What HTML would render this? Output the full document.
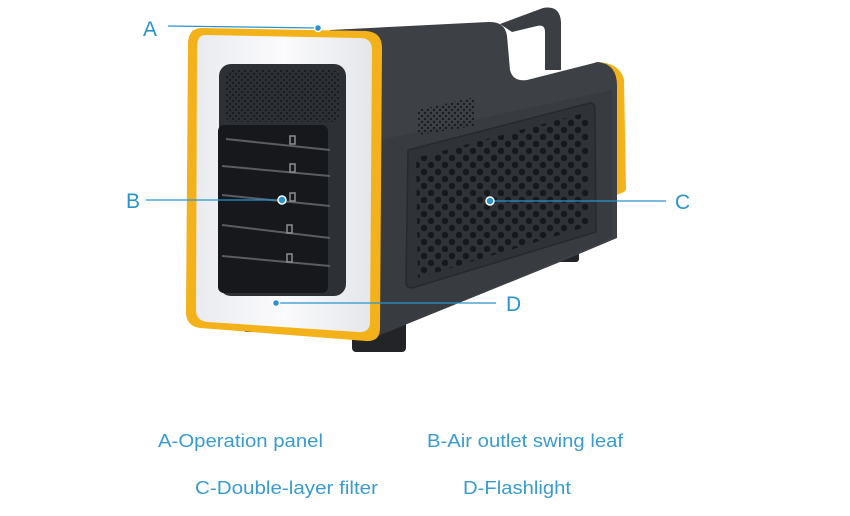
<!DOCTYPE html>
<html><head><meta charset="utf-8"><style>
html,body{margin:0;padding:0;background:#fff;width:850px;height:516px;overflow:hidden}
</style></head><body>
<svg width="850" height="516" viewBox="0 0 850 516" xmlns="http://www.w3.org/2000/svg">
<defs>
<pattern id="holes" x="0" y="0" width="14" height="14" patternUnits="userSpaceOnUse">
<circle cx="4" cy="4" r="3.2" fill="#16181b"/>
<circle cx="11" cy="11" r="3.2" fill="#16181b"/>
</pattern>
<pattern id="small" x="0" y="0" width="6" height="6" patternUnits="userSpaceOnUse">
<circle cx="2" cy="2" r="1.2" fill="#1a1c1f"/>
<circle cx="5" cy="5" r="1.2" fill="#1a1c1f"/>
</pattern>
<linearGradient id="wh" x1="0" y1="0" x2="1" y2="0">
<stop offset="0" stop-color="#e9ebef"/><stop offset="0.5" stop-color="#fbfbfd"/><stop offset="1" stop-color="#e4e6ea"/>
</linearGradient>
</defs>
<!-- feet -->
<rect x="352" y="318" width="54" height="34" rx="4" fill="#222428"/>
<rect x="543" y="238" width="36" height="24" rx="3" fill="#222428"/>
<rect x="245" y="318" width="22" height="14" fill="#222428"/>
<!-- yellow right strip -->
<path d="M595 62 Q620 62 624 80 L626 190 Q620 196 605 196 Z" fill="#f3b21a"/>
<!-- handle -->
<path d="M500 24 L543 8 Q560 5 561 22 L561 70 L545 70 L545 32 Q545 24 537 26 L512 32 Z" fill="#3b3e43"/>
<!-- body -->
<path d="M330 30 L488 22 Q505 21 507 36 L510 70 Q513 82 527 80 L598 62 Q617 64 617 86 L617 238 L560 262 L380 335 L330 335 Z" fill="#3d4045"/>
<path d="M380 140 L612 90 L612 238 L380 335 Z" fill="#383b40"/>
<!-- speaker dots -->
<path d="M418 110 L475 97 L475 126 L418 135 Z" fill="url(#small)"/>
<!-- filter panel -->
<path d="M408 150 L590 103 Q595 103 595 110 L596 232 L412 288 Q406 288 406 282 Z" fill="#2f3236" stroke="#27292d" stroke-width="1.5"/>
<path d="M416 158 L588 112 L589 226 L418 278 Z" fill="url(#holes)"/>
<!-- front yellow frame -->
<path d="M202 28 L366 31 Q382 32 382 48 L380 328 Q380 342 366 341 L200 328 Q186 326 186 312 L188 44 Q188 28 202 28 Z" fill="#f3b21a"/>
<path d="M205 35 L360 38 Q372 38 372 50 L370 322 Q370 333 358 332 L208 322 Q196 321 196 310 L197 48 Q197 35 205 35 Z" fill="url(#wh)"/>
<!-- grille -->
<rect x="219" y="64" width="127" height="232" rx="12" fill="#2d3034"/>
<rect x="225" y="70" width="115" height="52" rx="8" fill="url(#small)"/>
<rect x="218" y="125" width="110" height="168" rx="6" fill="#16181b"/>
<g stroke="#5a5d62" stroke-width="2">
<line x1="226" y1="139" x2="330" y2="150"/>
<line x1="222" y1="166" x2="330" y2="176"/>
<line x1="222" y1="195" x2="330" y2="206"/>
<line x1="222" y1="225" x2="330" y2="238"/>
<line x1="222" y1="256" x2="330" y2="266"/>
</g>
<g fill="none" stroke="#8a8d92" stroke-width="1.5">
<rect x="290" y="136" width="5" height="8"/><rect x="290" y="164" width="5" height="8"/><rect x="290" y="193" width="5" height="8"/><rect x="287" y="225" width="5" height="8"/><rect x="287" y="254" width="5" height="8"/>
</g>
<!-- callouts -->
<g stroke="#2a93cf" stroke-width="1.3" fill="none">
<line x1="168" y1="26" x2="318" y2="28"/>
<line x1="146" y1="200" x2="282" y2="200"/>
<line x1="490" y1="201" x2="666" y2="201"/>
<line x1="276" y1="303" x2="496" y2="303"/>
</g>
<g fill="#2a93cf" stroke="#fff" stroke-width="1.5">
<circle cx="318" cy="28" r="3.5"/>
<circle cx="282" cy="200" r="4"/>
<circle cx="490" cy="201" r="4"/>
<circle cx="276" cy="303" r="3.5"/>
</g>
<g font-family="Liberation Sans, sans-serif" font-size="21" fill="#2a93cf">
<text x="143" y="36">A</text>
<text x="126" y="208">B</text>
<text x="675" y="209">C</text>
<text x="506" y="311">D</text>
</g>
<g font-family="Liberation Sans, sans-serif" font-size="18" fill="#3a9bd0">
<text x="158" y="447" textLength="165" lengthAdjust="spacingAndGlyphs">A-Operation panel</text>
<text x="427" y="447" textLength="196" lengthAdjust="spacingAndGlyphs">B-Air outlet swing leaf</text>
<text x="195" y="494" textLength="183" lengthAdjust="spacingAndGlyphs">C-Double-layer filter</text>
<text x="463" y="494" textLength="108" lengthAdjust="spacingAndGlyphs">D-Flashlight</text>
</g>
</svg>
</body></html>
